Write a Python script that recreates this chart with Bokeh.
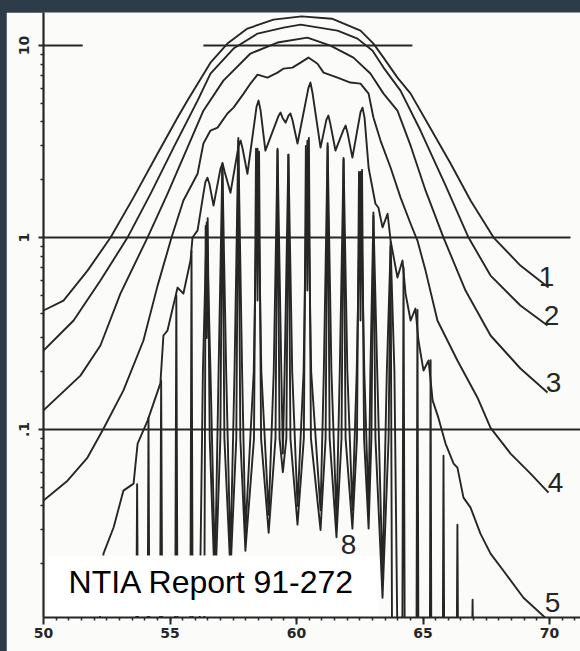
from bokeh.plotting import figure
from bokeh.models import FixedTicker, CustomJSTickFormatter, BoxAnnotation, Label
from bokeh.layouts import column
from bokeh.core.properties import value
from bokeh.embed import file_html
from bokeh.resources import INLINE

DARK = "#2e3c4a"
PAPER = "#fbfbf9"
INK = "#262626"

# ---------------- data (frequency in GHz, attenuation in dB/km) ----------------
x_ticks = [50, 55, 60, 65, 70]
x_minor = [50.5 + 0.5 * i for i in range(42)]
y_ticks = [0.1, 1, 10]
y_labels = [".1", "1", "10"]
y_minor = [0.02, 0.03, 0.04, 0.05, 0.06, 0.07, 0.08, 0.09,
           0.2, 0.3, 0.4, 0.5, 0.6, 0.7, 0.8, 0.9,
           2, 3, 4, 5, 6, 7, 8, 9]

# reference lines drawn on the original chart
ref_y = [10, 10, 1, 0.1]
ref_x0 = [50, 56.32, 50, 50]
ref_x1 = [51.55, 64.58, 70.83, 71.3]

c1_f = [50.00, 50.79, 51.74, 52.65, 53.56, 54.51, 55.30, 55.69, 56.60, 57.27, 58.06, 59.09,
        60.20, 61.40, 62.53, 63.04, 63.44, 63.99, 64.51, 65.30, 66.09, 66.88, 67.79, 68.85, 69.96]
c1_v = [0.417, 0.470, 0.673, 1.00, 1.62, 2.74, 4.22, 5.17, 8.15, 10.24, 12.26, 13.65,
        14.2, 13.8, 11.97, 10.24, 8.66, 6.81, 5.62, 3.70, 2.43, 1.56, 1.00, 0.715, 0.549]

c2_f = [50.00, 51.19, 52.25, 53.32, 54.23, 55.14, 56.09, 56.60, 57.51, 58.46, 59.49, 60.16,
        61.62, 62.41, 63.00, 63.44, 64.11, 64.90, 65.89, 66.80, 67.67, 68.85, 69.92]
c2_v = [0.258, 0.370, 0.597, 1.00, 1.69, 2.94, 5.17, 7.15, 9.65, 11.55, 12.4, 12.86,
        11.97, 10.87, 9.42, 7.68, 5.83, 3.61, 1.87, 1.00, 0.634, 0.443, 0.348]

c3_f = [50.00, 51.46, 52.25, 53.04, 54.11, 54.90, 55.69, 56.32, 57.11, 58.18, 59.25, 60.43,
        61.34, 62.25, 62.92, 63.44, 63.99, 64.51, 65.10, 65.81, 66.68, 67.67, 68.85, 69.92]
c3_v = [0.126, 0.191, 0.274, 0.511, 1.00, 1.69, 2.94, 4.58, 6.57, 9.09, 10.37, 11.0,
        10.0, 8.66, 7.15, 5.62, 4.58, 3.01, 1.76, 1.00, 0.530, 0.309, 0.208, 0.156]

c4_f = [50.00, 50.95, 51.74, 52.37, 53.16, 53.95, 54.51, 55.06, 55.53, 56.09, 56.32, 56.60,
        56.88, 57.27, 57.51, 57.91, 58.18, 58.46, 58.85, 59.25, 59.49, 59.84, 60.16, 60.47,
        60.83, 61.07, 61.62, 62.13, 62.53, 62.85, 63.04, 63.32, 63.72, 64.11, 64.51, 64.78,
        65.10, 65.57, 66.36, 67.15, 67.67, 68.46, 69.25, 69.96]
c4_v = [0.0427, 0.0542, 0.0715, 0.101, 0.160, 0.291, 0.562, 1.00, 1.56, 2.15, 3.09, 3.61,
        3.74, 4.43, 4.75, 5.62, 6.34, 7.06, 6.81, 7.23, 7.59, 7.68, 8.15, 8.66,
        8.05, 7.23, 6.81, 6.42, 6.34, 5.62, 4.22, 3.20, 2.31, 1.62, 1.18, 0.965,
        0.673, 0.370, 0.229, 0.147, 0.102, 0.075, 0.059, 0.047]

c5_f = [52.20, 52.37, 52.77, 53.16, 53.56, 53.72, 54.11, 54.62, 54.74, 54.90, 55.30, 55.53,
        55.81, 55.89, 56.09, 56.32, 56.40, 56.48, 56.56, 56.72, 57.00, 57.08, 57.16, 57.39,
        57.71, 57.79, 57.87, 58.06, 58.42, 58.50, 58.58, 58.77, 59.29, 59.37, 59.45, 59.57,
        59.68, 59.76, 59.84, 60.04, 60.47, 60.55, 60.63, 60.95, 61.18, 61.26, 61.34, 61.54,
        61.86, 61.94, 62.02, 62.21, 62.53, 62.61, 62.69, 62.85,
        63.12, 63.24, 63.40, 63.60, 63.72, 63.99, 64.19, 64.31, 64.51, 64.70, 64.82, 65.02,
        65.22, 65.38, 65.61, 65.89, 66.21, 66.36, 66.60, 66.88, 67.27, 67.67, 68.18, 68.97,
        70.00]
c5_v = [0.009, 0.0226, 0.0309, 0.0481, 0.0523, 0.0845, 0.111, 0.174, 0.309, 0.328, 0.549, 0.511,
        0.759, 1.00, 1.09, 1.69, 1.95, 2.05, 1.9, 1.47, 2.3, 2.43, 2.2, 1.71,
        3.0, 3.20, 2.9, 2.15, 4.8, 5.17, 4.6, 2.84, 4.3, 4.48, 4.2, 3.97,
        4.3, 4.43, 4.1, 3.09, 6.0, 6.42, 5.7, 2.94, 4.1, 4.32, 3.9, 2.84,
        3.65, 3.83, 3.5, 2.61, 4.5, 4.75, 4.2, 2.31,
        1.50, 1.43, 1.13, 1.33, 0.965, 0.619, 0.759, 0.511, 0.370, 0.427, 0.291, 0.203,
        0.229, 0.142, 0.115, 0.0845, 0.0665, 0.0634, 0.0442, 0.0392, 0.0287, 0.0226, 0.0184, 0.0133,
        0.0100]

# curve 7 (label hidden under the caption box): partly resolved lines
c7_f = [56.15, 56.30, 56.45, 56.60, 56.78, 56.92, 57.07, 57.22, 57.39, 57.55, 57.70, 57.85,
        57.98, 58.31, 58.46, 58.61, 58.90, 59.10, 59.25, 59.40, 59.46, 59.53, 59.68, 59.83,
        60.04, 60.28, 60.43, 60.58, 60.95, 61.08, 61.23, 61.38, 61.58, 61.71, 61.86, 62.01,
        62.21, 62.38, 62.53, 62.68, 62.85, 62.92, 63.04, 63.19, 63.40, 63.57, 63.72, 63.87,
        64.00]
c7_v = [0.006, 0.2, 1.2, 0.2, 0.018, 0.2, 2.4, 0.2, 0.022, 0.2, 3.2, 0.2,
        0.029, 0.2, 2.9, 0.2, 0.036, 0.2, 2.85, 0.2, 0.075, 0.2, 2.7, 0.2,
        0.04, 0.2, 3.2, 0.2, 0.038, 0.2, 3.0, 0.2, 0.034, 0.2, 2.55, 0.2,
        0.038, 0.2, 2.2, 0.2, 0.038, 0.2, 1.3, 0.2, 0.017, 0.2, 0.9, 0.2,
        0.006]

# curve 8: resolved line spectrum (peaks, flanks and troughs)
c8_f = [53.66, 53.70, 53.74, 54.11, 54.15, 54.19, 54.60, 54.65, 54.70, 55.20, 55.25, 55.30,
        55.80, 55.85, 55.90, 56.35, 56.41, 56.45, 56.49, 56.57, 56.78, 56.99, 57.07, 57.15,
        57.39, 57.62, 57.70, 57.78, 57.98, 58.32, 58.40, 58.46, 58.52, 58.60, 58.90, 59.17,
        59.25, 59.33, 59.46, 59.60, 59.68, 59.76, 60.04, 60.29, 60.37, 60.43, 60.49, 60.57,
        60.95, 61.15, 61.23, 61.31, 61.58, 61.78, 61.86, 61.94, 62.21, 62.39, 62.47, 62.53,
        62.59, 62.67, 62.85, 62.96, 63.04, 63.12, 63.40, 63.64, 63.72, 63.78,
        64.18, 64.23, 64.28, 64.74, 64.78, 64.82, 65.27, 65.30, 65.33, 65.78, 65.81, 65.84,
        66.33, 66.36, 66.39, 66.93, 66.96, 66.99]
c8_v = [0.006, 0.052, 0.006, 0.006, 0.115, 0.006, 0.006, 0.18, 0.006, 0.006, 0.50, 0.006,
        0.006, 0.85, 0.006, 0.006, 1.15, 0.30, 1.26, 0.09, 0.014, 0.09, 2.45, 0.09,
        0.018, 0.09, 3.3, 0.09, 0.0234, 0.09, 2.9, 0.47, 2.8, 0.09, 0.029, 0.09,
        2.9, 0.09, 0.06, 0.09, 2.7, 0.09, 0.032, 0.09, 3.0, 0.53, 3.3, 0.09,
        0.030, 0.09, 3.1, 0.09, 0.0275, 0.09, 2.6, 0.09, 0.0305, 0.09, 2.2, 0.37,
        2.25, 0.09, 0.0305, 0.09, 1.35, 0.09, 0.0133, 0.09, 0.95, 0.006,
        0.006, 0.70, 0.006, 0.006, 0.42, 0.006, 0.006, 0.23, 0.006, 0.006, 0.073, 0.006,
        0.006, 0.032, 0.006, 0.006, 0.013, 0.006]

curves_f = [c1_f, c2_f, c3_f, c4_f, c5_f, c7_f, c8_f]
curves_v = [c1_v, c2_v, c3_v, c4_v, c5_v, c7_v, c8_v]

lab_text = ["1", "2", "3", "4", "5", "8"]
lab_f = [69.88, 70.08, 70.16, 70.24, 70.12, 62.06]
lab_v = [0.627, 0.393, 0.176, 0.0531, 0.0125, 0.0251]

# ---------------- figure ----------------
p = figure(width=574, height=639, x_range=(50, 71.225), y_range=(0.0105, 14.87),
           y_axis_type="log", output_backend="svg", toolbar_location=None,
           min_border_left=37, min_border_right=0, min_border_top=0, min_border_bottom=34,
           background_fill_color=PAPER, border_fill_color=PAPER, outline_line_color=None)
p.grid.visible = False
p.margin = (12, 0, 0, 6)

for ax in (p.xaxis, p.yaxis):
    ax.axis_line_color = INK
    ax.axis_line_width = 2.2
    ax.major_tick_line_color = INK
    ax.major_tick_line_width = 2
    ax.minor_tick_line_color = INK
    ax.minor_tick_line_width = 1.5
    ax.major_tick_in = 0
    ax.minor_tick_in = 0
    ax.minor_tick_out = 3
    ax.major_label_text_font = "DejaVu Sans"
    ax.major_label_text_font_style = "bold"
    ax.major_label_text_font_size = "14px"
    ax.major_label_text_color = INK

p.xaxis.ticker = FixedTicker(ticks=x_ticks, minor_ticks=x_minor)
p.xaxis.major_tick_out = 7
p.xaxis.major_label_standoff = 3

p.yaxis.ticker = FixedTicker(ticks=y_ticks, minor_ticks=y_minor)
p.yaxis.formatter = CustomJSTickFormatter(
    args=dict(vals=y_ticks, labs=y_labels),
    code="for (let i = 0; i < vals.length; i++) { if (Math.abs(vals[i] - tick) < 1e-6 * vals[i]) return labs[i]; } return '';")
p.yaxis.major_tick_out = 5
p.yaxis.major_label_orientation = "parallel"
p.yaxis.major_label_standoff = 9

p.segment(x0=ref_x0, y0=ref_y, x1=ref_x1, y1=ref_y, line_color=INK, line_width=2)

for fs, vs in zip(curves_f, curves_v):
    p.line(fs, vs, line_color=INK, line_width=1.9, line_join="round")

p.text(x=lab_f, y=lab_v, text=lab_text, text_font=value("Liberation Sans"),
       text_font_size="28px", text_align="center", text_baseline="middle", text_color=INK)

p.add_layout(BoxAnnotation(left=50.15, right=63.24, bottom=0.0107, top=0.0221,
                           fill_color="white", fill_alpha=1.0, line_color=None))
p.add_layout(Label(x=50.99, y=0.01615, text="NTIA Report 91-272",
                   text_font="Liberation Sans", text_font_size="32px",
                   text_align="left", text_baseline="middle", text_color="black"))

layout = column(p, width=580, height=651, styles={"background-color": DARK})

open("out.html", "w").write(file_html(layout, INLINE))
